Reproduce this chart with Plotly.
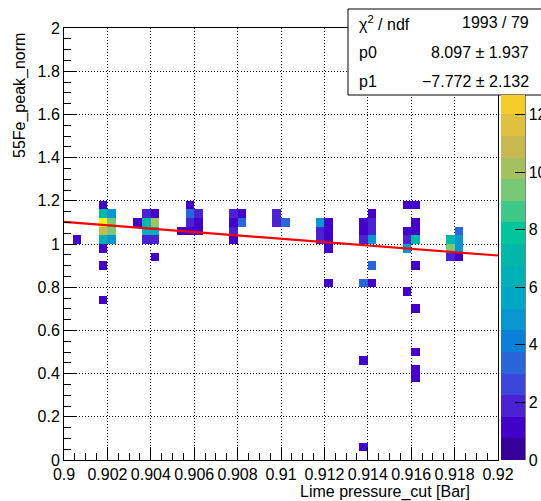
import numpy as np
import plotly.graph_objects as go

# ---------------- data ----------------
x_lo, x_hi, nx = 0.9, 0.92, 50          # Lime pressure_cut binning
y_lo, y_hi, ny = 0.0, 2.0, 50           # 55Fe_peak_norm binning

cell_pressure = [
    0.9006,
    0.9018, 0.9018, 0.9018, 0.9018, 0.9018, 0.9018, 0.9018, 0.9018,
    0.9022, 0.9022, 0.9022, 0.9022,
    0.9034,
    0.9038, 0.9038, 0.9038, 0.9038,
    0.9042, 0.9042, 0.9042, 0.9042, 0.9042,
    0.9054,
    0.9058, 0.9058, 0.9058, 0.9058,
    0.9062, 0.9062, 0.9062,
    0.9078, 0.9078, 0.9078, 0.9078,
    0.9082, 0.9082,
    0.9098, 0.9098,
    0.9102,
    0.9118, 0.9118, 0.9118,
    0.9122, 0.9122, 0.9122, 0.9122, 0.9122,
    0.9138, 0.9138, 0.9138, 0.9138, 0.9138, 0.9138,
    0.9142, 0.9142, 0.9142, 0.9142, 0.9142, 0.9142,
    0.9158, 0.9158, 0.9158, 0.9158, 0.9158,
    0.9162, 0.9162, 0.9162, 0.9162, 0.9162, 0.9162, 0.9162, 0.9162, 0.9162,
    0.9178, 0.9178, 0.9178,
    0.9182, 0.9182, 0.9182, 0.9182,
]
cell_norm = [
    1.02,
    1.18, 1.14, 1.10, 1.06, 1.02, 0.98, 0.90, 0.74,
    1.14, 1.10, 1.06, 1.02,
    1.10,
    1.14, 1.10, 1.06, 1.02,
    1.14, 1.10, 1.06, 1.02, 0.94,
    1.06,
    1.18, 1.14, 1.10, 1.06,
    1.14, 1.10, 1.06,
    1.14, 1.10, 1.06, 1.02,
    1.14, 1.10,
    1.14, 1.10,
    1.10,
    1.10, 1.06, 1.02,
    1.10, 1.06, 1.02, 0.98, 0.82,
    1.10, 1.06, 1.02, 0.82, 0.46, 0.06,
    1.14, 1.10, 1.06, 1.02, 0.90, 0.82,
    1.18, 1.06, 1.02, 0.98, 0.78,
    1.18, 1.10, 1.06, 1.02, 0.90, 0.70, 0.50, 0.42, 0.38,
    1.02, 0.98, 0.94,
    1.06, 1.02, 0.98, 0.94,
]
cell_count = [
    1,
    1, 7, 15, 11, 6, 1, 1, 1,
    5, 9, 9, 5,
    1,
    2, 7, 6, 2,
    1, 10, 6, 2, 1,
    1,
    1, 3, 2, 1,
    2, 1, 1,
    2, 1, 2, 1,
    1, 3,
    2, 2,
    3,
    5, 2, 2,
    1, 1, 1, 1, 1,
    1, 1, 2, 3, 1, 1,
    1, 2, 2, 5, 3, 1,
    1, 1, 2, 5, 1,
    1, 1, 1, 7, 1, 1, 1, 1, 1,
    7, 9, 2,
    3, 5, 5, 1,
]

# linear fit result (pol1)
chi2, ndf = 1993, 79
p0, p0_err = 8.097, 1.937
p1, p1_err = -7.772, 2.132

x_ticks = [0.9, 0.902, 0.904, 0.906, 0.908, 0.91, 0.912, 0.914, 0.916, 0.918, 0.92]
x_ticktext = ["0.9", "0.902", "0.904", "0.906", "0.908", "0.91", "0.912", "0.914", "0.916", "0.918", "0.92"]
y_ticks = [0, 0.2, 0.4, 0.6, 0.8, 1.0, 1.2, 1.4, 1.6, 1.8, 2.0]
y_ticktext = ["0", "0.2", "0.4", "0.6", "0.8", "1", "1.2", "1.4", "1.6", "1.8", "2"]
z_ticks = [0, 2, 4, 6, 8, 10, 12]

z_min, z_max = 0, 15

band_colors = [
    "#38009a", "#4200c8", "#4a22d2", "#3c46da", "#2a66da",
    "#0a80d8", "#0896d0", "#00a6c6", "#00b0b8", "#00b8a8",
    "#00c49c", "#40c888", "#78c874", "#a4c060", "#c8b850",
    "#e0c040", "#f4cc2c", "#f6d826", "#f6e620", "#f8f418",
]

# ---------------- geometry helpers ----------------
W, H = 541, 501
ML, MR, MT, MB = 64, 43, 28, 41
PW, PH = W - ML - MR, H - MT - MB


def px2x(px):
    return (px - ML) / PW


def px2y(py):
    return (H - MB - py) / PH


FONT = "Liberation Sans, Arial, Helvetica, sans-serif"

# ---------------- build histogram grid ----------------
dx = (x_hi - x_lo) / nx
dy = (y_hi - y_lo) / ny
x_centers = x_lo + dx * (np.arange(nx) + 0.5)
y_centers = y_lo + dy * (np.arange(ny) + 0.5)
z = np.full((ny, nx), np.nan)
for xv, yv, nv in zip(cell_pressure, cell_norm, cell_count):
    i = int(np.floor((xv - x_lo) / dx))
    j = int(np.floor((yv - y_lo) / dy))
    z[j, i] = nv
z_list = [[None if np.isnan(v) else float(v) for v in row] for row in z]


def stepped_scale(colors, band, vmax):
    scale = []
    nb = len(colors)
    for k in range(nb):
        lo_raw = k * band / vmax
        hi_raw = (k + 1) * band / vmax
        if lo_raw >= 1:
            break
        lo = 0.0 if k == 0 else lo_raw - 1e-4
        hi = 1.0 if (k == nb - 1 or hi_raw >= 1) else hi_raw - 1e-4
        scale.append([max(lo, 0.0), colors[k]])
        scale.append([hi, colors[k]])
        if hi >= 1.0:
            break
    return scale


band = (z_max - z_min) / len(band_colors)
heat_scale = stepped_scale(band_colors, band, z_max)

# palette visible below the stats box
pal_top_px, pal_bot_px = 95, 460
bar_max = z_max * (pal_bot_px - pal_top_px) / (pal_bot_px - MT)
bar_scale = stepped_scale(band_colors, band, bar_max)

fig = go.Figure()

fig.add_trace(go.Heatmap(
    x=x_centers, y=y_centers, z=z_list,
    zmin=z_min, zmax=z_max, colorscale=heat_scale,
    showscale=False, hoverinfo="skip", zsmooth=False,
))

# fit line
x_fit = np.linspace(x_lo, x_hi, 101)
y_fit = p0 + p1 * x_fit
fig.add_trace(go.Scatter(
    x=x_fit, y=y_fit, mode="lines",
    line=dict(color="#ff0000", width=2.2), hoverinfo="skip", showlegend=False,
))

# colour palette (dummy trace outside plot range)
fig.add_trace(go.Scatter(
    x=[x_hi + 1], y=[1], mode="markers", showlegend=False, hoverinfo="skip",
    marker=dict(
        color=[0], cmin=0, cmax=bar_max, colorscale=bar_scale, showscale=True,
        colorbar=dict(
            x=px2x(501), xanchor="left", xpad=0, ypad=0,
            y=0, yanchor="bottom", len=pal_bot_px - pal_top_px, lenmode="pixels",
            thickness=24, outlinewidth=0,
            tickmode="array", tickvals=z_ticks, ticktext=[str(v) for v in z_ticks],
            ticks="inside", ticklen=10, tickwidth=1, tickcolor="black",
            tickfont=dict(family=FONT, size=16, color="black"),
        ),
    ),
))

GRID_DASH = "1px,2px"

fig.update_layout(
    width=W, height=H,
    margin=dict(l=ML, r=MR, t=MT, b=MB, pad=0, autoexpand=False),
    paper_bgcolor="white", plot_bgcolor="white",
    showlegend=False,
    xaxis=dict(
        range=[x_lo, x_hi], tickmode="array", tickvals=x_ticks, ticktext=x_ticktext,
        tickangle=0,
        ticks="inside", ticklen=13, tickwidth=1, tickcolor="black",
        minor=dict(tick0=x_lo, dtick=0.0005, ticks="inside", ticklen=7, tickcolor="black", showgrid=False),
        showgrid=True, gridcolor="black", gridwidth=1, griddash=GRID_DASH,
        zeroline=False, showline=True, mirror=True, linecolor="black", linewidth=1,
        tickfont=dict(family=FONT, size=16, color="black"),
    ),
    yaxis=dict(
        range=[y_lo, y_hi], tickmode="array", tickvals=y_ticks, ticktext=y_ticktext,
        ticks="inside", ticklen=13, tickwidth=1, tickcolor="black",
        minor=dict(tick0=0, dtick=0.05, ticks="inside", ticklen=7, tickcolor="black", showgrid=False),
        showgrid=True, gridcolor="black", gridwidth=1, griddash=GRID_DASH,
        zeroline=False, showline=True, mirror=True, linecolor="black", linewidth=1,
        tickfont=dict(family=FONT, size=16, color="black"),
    ),
)

# palette axis line
fig.add_shape(type="line", xref="paper", yref="paper",
              x0=px2x(525), x1=px2x(525), y0=px2y(pal_top_px), y1=px2y(pal_bot_px),
              line=dict(color="black", width=1), layer="above")

# stats box
fig.add_shape(type="rect", xref="paper", yref="paper",
              x0=px2x(348), x1=px2x(560), y0=px2y(95), y1=px2y(9),
              fillcolor="white", line=dict(color="black", width=1), layer="above")

rows = [
    ("χ<sup>2</sup> / ndf", f"{chi2} / {ndf}", 23),
    ("p0", f"{p0:.3f} ± {p0_err:.3f}", 52),
    ("p1", f"−{abs(p1):.3f} ± {p1_err:.3f}", 81),
]
for lab, val, py in rows:
    fig.add_annotation(xref="paper", yref="paper", x=px2x(357), y=px2y(py),
                       xanchor="left", yanchor="middle", text=lab, showarrow=False,
                       font=dict(family=FONT, size=16, color="black"))
    fig.add_annotation(xref="paper", yref="paper", x=px2x(531), y=px2y(py),
                       xanchor="right", yanchor="middle", text=val, showarrow=False,
                       font=dict(family=FONT, size=16, color="black"))

# axis titles
fig.add_annotation(xref="paper", yref="paper", x=px2x(472), y=px2y(492),
                   xanchor="right", yanchor="middle", text="Lime pressure_cut [Bar]",
                   showarrow=False, font=dict(family=FONT, size=16, color="black"))
fig.add_annotation(xref="paper", yref="paper", x=px2x(20), y=px2y(96),
                   xanchor="center", yanchor="middle", text="55Fe_peak_norm", textangle=-90,
                   showarrow=False, font=dict(family=FONT, size=16, color="black"))

fig.write_html("out.html")
